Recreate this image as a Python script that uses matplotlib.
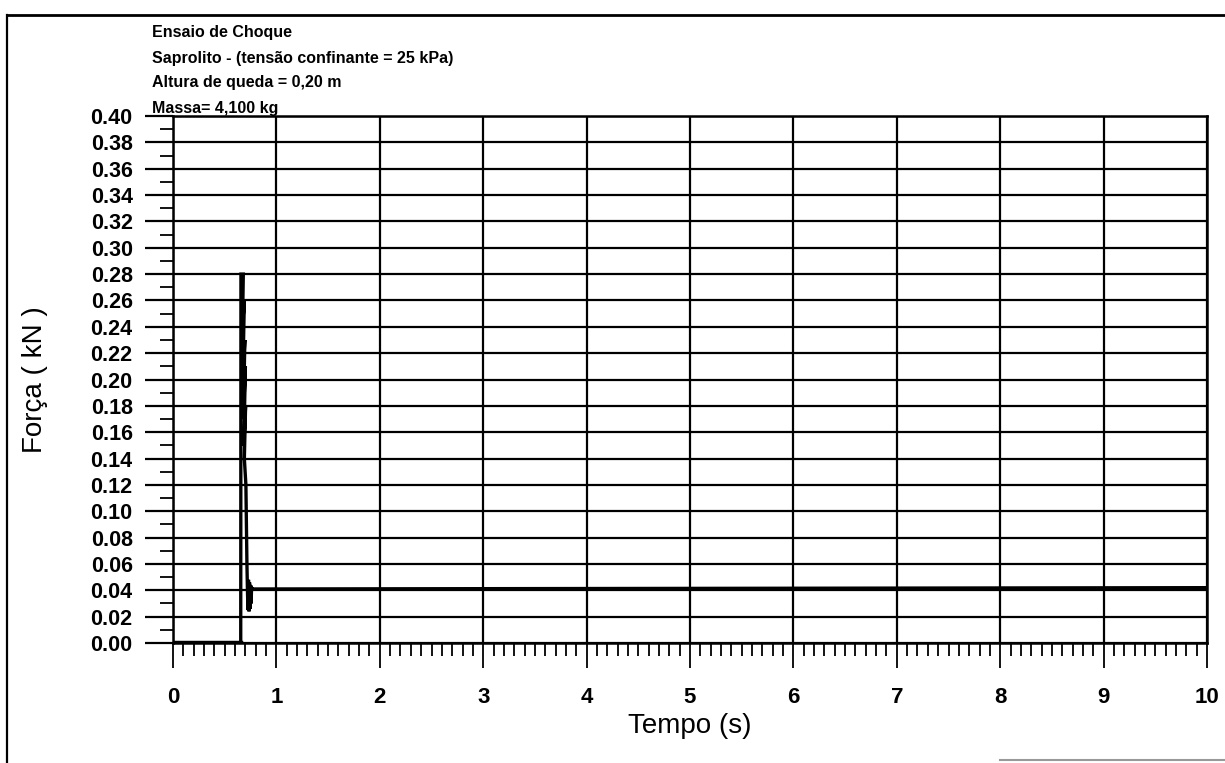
import numpy as np
import matplotlib
matplotlib.use('Agg')
import matplotlib.pyplot as plt
from matplotlib.ticker import MultipleLocator, FormatStrFormatter
from matplotlib.lines import Line2D

plt.rcParams['font.family'] = ['Liberation Sans', 'DejaVu Sans']

# Ensaio de choque - registo de forca no tempo
tempo = [0.000, 0.655, 0.657, 0.680, 0.672, 0.690, 0.675, 0.695, 0.680, 0.700,
         0.685, 0.702, 0.690, 0.705, 0.710, 0.715, 0.720, 0.725, 0.730, 0.735,
         0.740, 0.745, 0.750, 0.755, 0.760, 0.770, 10.000]
forca = [0.000, 0.000, 0.280, 0.280, 0.240, 0.260, 0.200, 0.230, 0.170, 0.210,
         0.150, 0.180, 0.140, 0.120, 0.090, 0.060, 0.040, 0.025, 0.048, 0.024,
         0.046, 0.026, 0.044, 0.030, 0.042, 0.041, 0.042]

legenda = ['Ensaio de Choque',
           'Saprolito - (tensão confinante = 25 kPa)',
           'Altura de queda = 0,20 m',
           'Massa= 4,100 kg']

W, H = 1225, 763
fig = plt.figure(figsize=(W / 100, H / 100), dpi=100)
ax = fig.add_axes([173 / W, 1 - 643 / H, (1207 - 173) / W, (643 - 116) / H])

# curva
ax.plot(tempo, forca, color='black', lw=2.4, solid_joinstyle='miter', zorder=3)
ax.plot(tempo[:2], forca[:2], color='black', lw=3.2, zorder=3)

ax.set_xlim(0, 10)
ax.set_ylim(0, 0.40)
ax.xaxis.set_major_locator(MultipleLocator(1))
ax.xaxis.set_minor_locator(MultipleLocator(0.1))
ax.yaxis.set_major_locator(MultipleLocator(0.02))
ax.yaxis.set_minor_locator(MultipleLocator(0.01))
ax.yaxis.set_major_formatter(FormatStrFormatter('%.2f'))

ax.grid(True, which='major', color='black', lw=1.6)
ax.tick_params(axis='y', which='major', length=20, width=1.6, pad=9,
               labelsize=15.5)
ax.tick_params(axis='y', which='minor', length=9.5, width=1.3)
ax.tick_params(axis='x', which='major', length=18, width=1.3, pad=14,
               labelsize=16)
ax.tick_params(axis='x', which='minor', length=9.5, width=1.3)
for lab in ax.get_xticklabels() + ax.get_yticklabels():
    lab.set_fontweight('bold')
for s in ax.spines.values():
    s.set_linewidth(1.8)

ax.set_xlabel('Tempo (s)', fontsize=20, labelpad=3)
fig.text(35 / W, 1 - 380 / H, 'Força ( kN )', rotation=90, fontsize=20,
         ha='center', va='center')

# texto do cabecalho
for i, linha in enumerate(legenda):
    fig.text(152 / W, 1 - (33 + 25 * i) / H, linha, fontsize=11.5,
             fontweight='bold', ha='left', va='center')

# moldura da folha
fig.add_artist(Line2D([7 / W, 1], [1 - 15 / H, 1 - 15 / H], color='black',
                      lw=2, transform=fig.transFigure))
fig.add_artist(Line2D([7 / W, 7 / W], [0, 1 - 15 / H], color='black',
                      lw=1.6, transform=fig.transFigure))
fig.add_artist(Line2D([1000 / W, 1], [3 / H, 3 / H], color='0.6',
                      lw=1.5, transform=fig.transFigure))

fig.savefig('out.png', dpi=100)
